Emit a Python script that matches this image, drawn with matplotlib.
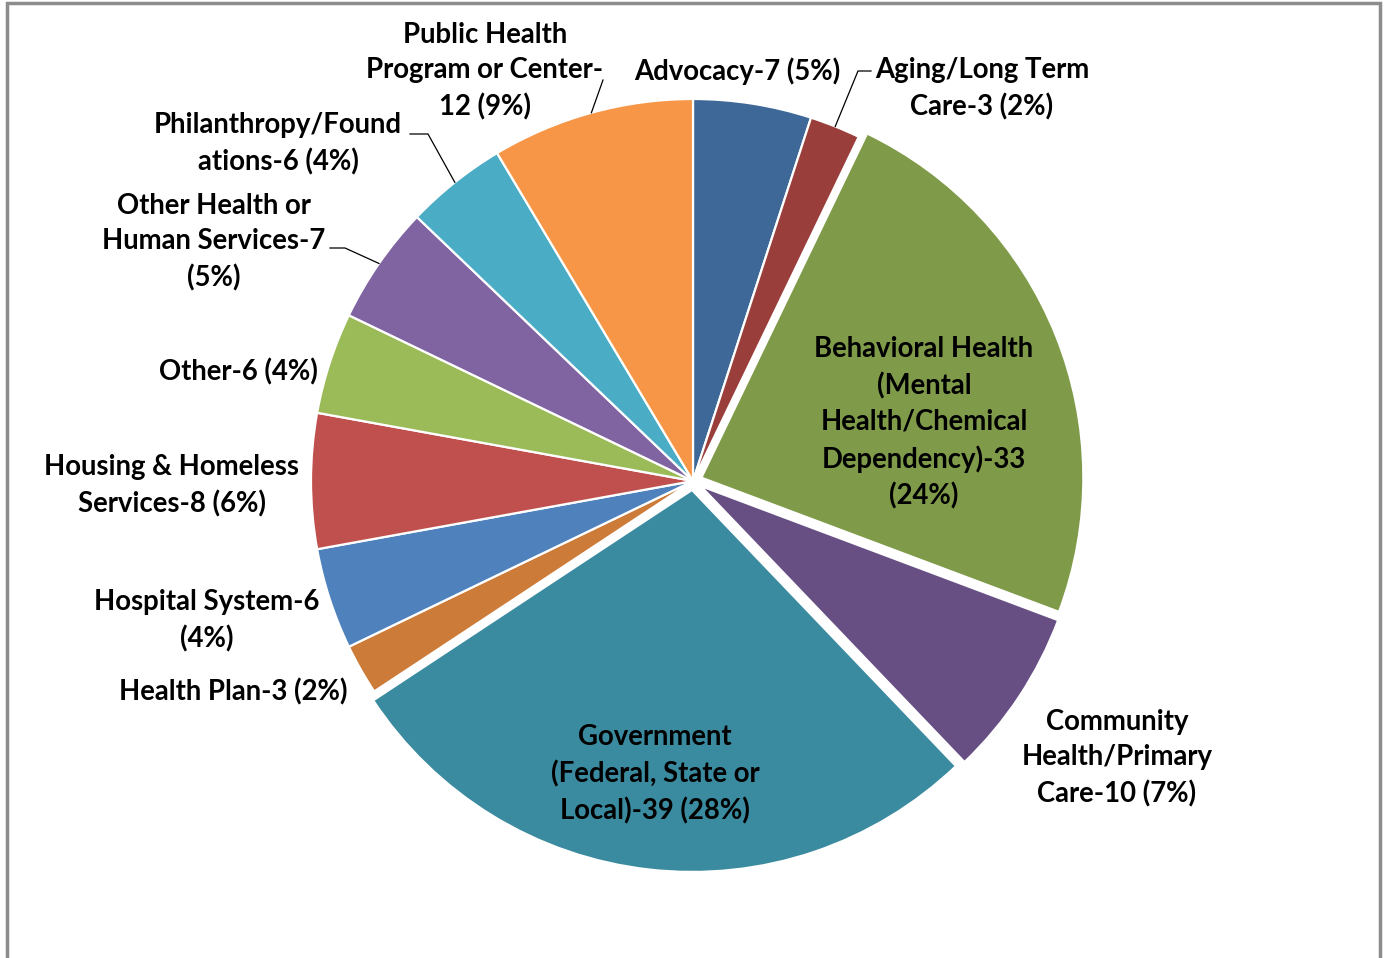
import numpy as np
import matplotlib
matplotlib.use('Agg')
import matplotlib.pyplot as plt

# sector counts, clockwise from 12 o'clock
labels = ['Advocacy-7 (5%)',
          'Aging/Long Term\nCare-3 (2%)',
          'Behavioral Health\n(Mental\nHealth/Chemical\nDependency)-33\n(24%)',
          'Community\nHealth/Primary\nCare-10 (7%)',
          'Government\n(Federal, State or\nLocal)-39 (28%)',
          'Health Plan-3 (2%)',
          'Hospital System-6\n(4%)',
          'Housing & Homeless\nServices-8 (6%)',
          'Other-6 (4%)',
          'Other Health or\nHuman Services-7\n(5%)',
          'Philanthropy/Found\nations-6 (4%)',
          'Public Health\nProgram or Center-\n12 (9%)']
counts = [7, 3, 33, 10, 39, 3, 6, 8, 6, 7, 6, 12]
colors = ['#3E6898', '#9A3E3C', '#7F9B49', '#674F84', '#3B8BA0', '#CC7B38',
          '#4F81BD', '#C0504D', '#9BBB59', '#8064A2', '#4BACC6', '#F79646']
# pull-out distance in pixels
explode = [0, 0, 9, 9, 9, 0, 0, 0, 0, 0, 0, 0]

# label positions in pixels (x, y from top)
label_xy = [(737, 71), (982, 89), (924, 423), (1117, 758), (655, 774),
            (233, 692), (207, 621), (172, 486), (238, 372), (214, 242),
            (278, 144), (485, 71)]
# leader lines: (label end point, elbow point) or None
leaders = [None, ((871, 71), (858, 71)), None, None, None, None, None, None,
           None, ((330, 248), (345, 248)), ((410, 134), (428, 134)),
           ((603, 80), (603, 80))]

W, H = 1387, 958
cx, cy, R = 693, 481, 382

fig = plt.figure(figsize=(W / 100, H / 100), dpi=100)
ax = fig.add_axes([0, 0, 1, 1])

# y axis points down so the pie runs clockwise with counterclock=True
wedges, _ = ax.pie(counts, colors=colors, explode=explode, startangle=-90,
                   counterclock=True, center=(cx, cy), radius=R,
                   wedgeprops=dict(edgecolor='white', linewidth=1.6))
ax.set_xlim(0, W)
ax.set_ylim(H, 0)
ax.set_aspect('equal')
ax.axis('off')

font = dict(family='Lato', fontweight='bold', fontsize=19.8, color='black')
for lab, (x, y) in zip(labels, label_xy):
    ax.text(x, y, lab, ha='center', va='center', linespacing=1.45, **font)

tot = sum(counts)
cum = np.cumsum([0] + counts)
for i, ld in enumerate(leaders):
    if ld is None:
        continue
    mid = (cum[i] + counts[i] / 2) / tot * 2 * np.pi
    ex = cx + R * np.sin(mid)
    ey = cy - R * np.cos(mid)
    (x0, y0), (x1, y1) = ld
    ax.plot([x0, x1, ex], [y0, y1, ey], color='black', lw=0.9)

# chart area border (bottom edge cut off)
ax.plot([7, 7, 1380, 1380], [H, 3, 3, H], color='#8C8C8C', lw=2.5,
        solid_joinstyle='miter')

fig.savefig('out.png', dpi=100)
